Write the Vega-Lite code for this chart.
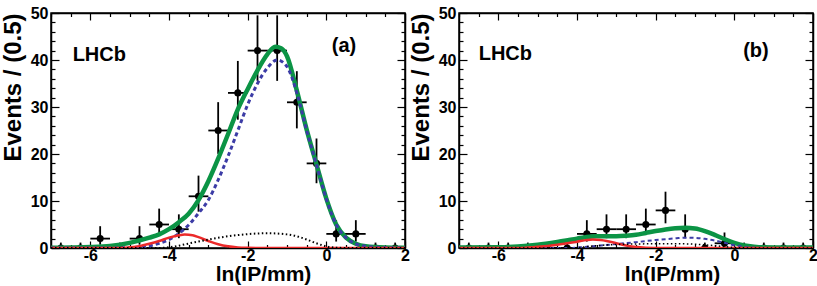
{
  "$schema": "https://vega.github.io/schema/vega-lite/v6.json",
  "padding": {"left": 0, "top": 4, "right": 0, "bottom": 0},
  "background": "white",
  "config": {
    "font": "Liberation Sans",
    "view": {"stroke": "black", "strokeWidth": 1.5},
    "axis": {
      "labelFont": "Liberation Sans", "labelFontWeight": "bold", "labelFontSize": 16, "labelColor": "black",
      "titleFont": "Liberation Sans", "titleFontWeight": "bold", "titleFontSize": 21, "titleColor": "black",
      "domainColor": "black", "domainWidth": 1.5, "tickColor": "black", "tickWidth": 1.2,
      "grid": false, "labelOverlap": false, "labelFlush": false, "labelBound": false
    }
  },
  "datasets": {
    "pts": [
      {"p":"a","x":-6.75,"xl":-7.0,"xr":-6.5,"n":0,"lo":0,"hi":1.15},
      {"p":"a","x":-6.25,"xl":-6.5,"xr":-6.0,"n":0,"lo":0,"hi":1.15},
      {"p":"a","x":-5.75,"xl":-6.0,"xr":-5.5,"n":2,"lo":0.71,"hi":4.64},
      {"p":"a","x":-5.25,"xl":-5.5,"xr":-5.0,"n":0,"lo":0,"hi":1.15},
      {"p":"a","x":-4.75,"xl":-5.0,"xr":-4.5,"n":2,"lo":0.71,"hi":4.64},
      {"p":"a","x":-4.25,"xl":-4.5,"xr":-4.0,"n":5,"lo":2.84,"hi":8.38},
      {"p":"a","x":-3.75,"xl":-4.0,"xr":-3.5,"n":4,"lo":2.09,"hi":7.16},
      {"p":"a","x":-3.25,"xl":-3.5,"xr":-3.0,"n":11,"lo":7.73,"hi":15.4},
      {"p":"a","x":-2.75,"xl":-3.0,"xr":-2.5,"n":25,"lo":20.03,"hi":31.03},
      {"p":"a","x":-2.25,"xl":-2.5,"xr":-2.0,"n":33,"lo":27.3,"hi":39.8},
      {"p":"a","x":-1.75,"xl":-2.0,"xr":-1.5,"n":42,"lo":35.56,"hi":49.5},
      {"p":"a","x":-1.25,"xl":-1.5,"xr":-1.0,"n":42,"lo":35.56,"hi":49.5},
      {"p":"a","x":-0.75,"xl":-1.0,"xr":-0.5,"n":31,"lo":25.45,"hi":37.62},
      {"p":"a","x":-0.25,"xl":-0.5,"xr":0.0,"n":18,"lo":13.78,"hi":23.3},
      {"p":"a","x":0.25,"xl":0.0,"xr":0.5,"n":3,"lo":1.37,"hi":5.92},
      {"p":"a","x":0.75,"xl":0.5,"xr":1.0,"n":3,"lo":1.37,"hi":5.92},
      {"p":"a","x":1.25,"xl":1.0,"xr":1.5,"n":0,"lo":0,"hi":1.15},
      {"p":"a","x":1.75,"xl":1.5,"xr":2.0,"n":0,"lo":0,"hi":1.15},
      {"p":"b","x":-6.75,"xl":-7.0,"xr":-6.5,"n":0,"lo":0,"hi":1.15},
      {"p":"b","x":-6.25,"xl":-6.5,"xr":-6.0,"n":0,"lo":0,"hi":1.15},
      {"p":"b","x":-5.75,"xl":-6.0,"xr":-5.5,"n":0,"lo":0,"hi":1.15},
      {"p":"b","x":-5.25,"xl":-5.5,"xr":-5.0,"n":0,"lo":0,"hi":1.15},
      {"p":"b","x":-4.75,"xl":-5.0,"xr":-4.5,"n":0,"lo":0,"hi":1.15},
      {"p":"b","x":-4.25,"xl":-4.5,"xr":-4.0,"n":0,"lo":0,"hi":1.15},
      {"p":"b","x":-3.75,"xl":-4.0,"xr":-3.5,"n":3,"lo":1.37,"hi":5.92},
      {"p":"b","x":-3.25,"xl":-3.5,"xr":-3.0,"n":4,"lo":2.09,"hi":7.16},
      {"p":"b","x":-2.75,"xl":-3.0,"xr":-2.5,"n":4,"lo":2.09,"hi":7.16},
      {"p":"b","x":-2.25,"xl":-2.5,"xr":-2.0,"n":5,"lo":2.84,"hi":8.38},
      {"p":"b","x":-1.75,"xl":-2.0,"xr":-1.5,"n":8,"lo":5.25,"hi":11.98},
      {"p":"b","x":-1.25,"xl":-1.5,"xr":-1.0,"n":4,"lo":2.09,"hi":7.16},
      {"p":"b","x":-0.75,"xl":-1.0,"xr":-0.5,"n":0,"lo":0,"hi":1.15},
      {"p":"b","x":-0.25,"xl":-0.5,"xr":0.0,"n":1,"lo":0.17,"hi":3.3},
      {"p":"b","x":0.25,"xl":0.0,"xr":0.5,"n":0,"lo":0,"hi":1.15},
      {"p":"b","x":0.75,"xl":0.5,"xr":1.0,"n":0,"lo":0,"hi":1.15},
      {"p":"b","x":1.25,"xl":1.0,"xr":1.5,"n":0,"lo":0,"hi":1.15},
      {"p":"b","x":1.75,"xl":1.5,"xr":2.0,"n":0,"lo":0,"hi":1.15}
    ],
    "labels": [
      {"p":"a","k":"exp","t":"LHCb","x":-6.45,"y":41},
      {"p":"a","k":"tag","t":"(a)","x":0.45,"y":43},
      {"p":"b","k":"exp","t":"LHCb","x":-6.5,"y":41.3},
      {"p":"b","k":"tag","t":"(b)","x":0.55,"y":42}
    ],
    "curves": [
      {"p":"a","c":"tot","x":-7,"y":0.05},{"p":"a","c":"tot","x":-6.5,"y":0.1},{"p":"a","c":"tot","x":-6,"y":0.2},
      {"p":"a","c":"tot","x":-5.5,"y":0.45},{"p":"a","c":"tot","x":-5,"y":1.1},{"p":"a","c":"tot","x":-4.5,"y":2.2},
      {"p":"a","c":"tot","x":-4.25,"y":2.9},{"p":"a","c":"tot","x":-4,"y":4.0},{"p":"a","c":"tot","x":-3.75,"y":5.5},
      {"p":"a","c":"tot","x":-3.5,"y":7.3},{"p":"a","c":"tot","x":-3.25,"y":10.2},{"p":"a","c":"tot","x":-3,"y":14.2},
      {"p":"a","c":"tot","x":-2.75,"y":19},{"p":"a","c":"tot","x":-2.5,"y":24.2},{"p":"a","c":"tot","x":-2.25,"y":29.5},
      {"p":"a","c":"tot","x":-2,"y":33.8},{"p":"a","c":"tot","x":-1.75,"y":37.8},{"p":"a","c":"tot","x":-1.5,"y":41.2},
      {"p":"a","c":"tot","x":-1.3,"y":42.8},{"p":"a","c":"tot","x":-1.15,"y":42.5},{"p":"a","c":"tot","x":-1,"y":40.8},
      {"p":"a","c":"tot","x":-0.75,"y":33.5},{"p":"a","c":"tot","x":-0.5,"y":25.2},{"p":"a","c":"tot","x":-0.25,"y":17.8},
      {"p":"a","c":"tot","x":0,"y":10.5},{"p":"a","c":"tot","x":0.25,"y":5},{"p":"a","c":"tot","x":0.5,"y":2.2},
      {"p":"a","c":"tot","x":0.75,"y":0.9},{"p":"a","c":"tot","x":1,"y":0.35},{"p":"a","c":"tot","x":1.5,"y":0.08},
      {"p":"a","c":"tot","x":2,"y":0.03},

      {"p":"a","c":"sig","x":-7,"y":0},{"p":"a","c":"sig","x":-5.5,"y":0},{"p":"a","c":"sig","x":-5,"y":0.05},
      {"p":"a","c":"sig","x":-4.75,"y":0.2},{"p":"a","c":"sig","x":-4.5,"y":0.45},{"p":"a","c":"sig","x":-4.25,"y":1.0},
      {"p":"a","c":"sig","x":-4,"y":1.8},{"p":"a","c":"sig","x":-3.75,"y":3.1},{"p":"a","c":"sig","x":-3.5,"y":4.9},
      {"p":"a","c":"sig","x":-3.25,"y":7.4},{"p":"a","c":"sig","x":-3,"y":10.2},{"p":"a","c":"sig","x":-2.75,"y":14.5},
      {"p":"a","c":"sig","x":-2.5,"y":19.5},{"p":"a","c":"sig","x":-2.25,"y":25},{"p":"a","c":"sig","x":-2,"y":30.5},
      {"p":"a","c":"sig","x":-1.75,"y":35},{"p":"a","c":"sig","x":-1.5,"y":38.3},{"p":"a","c":"sig","x":-1.25,"y":40},
      {"p":"a","c":"sig","x":-1,"y":38.6},{"p":"a","c":"sig","x":-0.75,"y":33},{"p":"a","c":"sig","x":-0.5,"y":25},
      {"p":"a","c":"sig","x":-0.25,"y":17.7},{"p":"a","c":"sig","x":0,"y":10.4},{"p":"a","c":"sig","x":0.25,"y":5},
      {"p":"a","c":"sig","x":0.5,"y":2.2},{"p":"a","c":"sig","x":0.75,"y":0.9},{"p":"a","c":"sig","x":1,"y":0.35},
      {"p":"a","c":"sig","x":1.5,"y":0.08},{"p":"a","c":"sig","x":2,"y":0.03},

      {"p":"a","c":"pk","x":-7,"y":0},{"p":"a","c":"pk","x":-5.25,"y":0},{"p":"a","c":"pk","x":-5,"y":0.15},
      {"p":"a","c":"pk","x":-4.75,"y":0.4},{"p":"a","c":"pk","x":-4.5,"y":0.9},{"p":"a","c":"pk","x":-4.25,"y":1.5},
      {"p":"a","c":"pk","x":-4,"y":2.2},{"p":"a","c":"pk","x":-3.75,"y":2.7},{"p":"a","c":"pk","x":-3.6,"y":2.85},
      {"p":"a","c":"pk","x":-3.4,"y":2.7},{"p":"a","c":"pk","x":-3.25,"y":2.3},{"p":"a","c":"pk","x":-3,"y":1.5},
      {"p":"a","c":"pk","x":-2.75,"y":0.8},{"p":"a","c":"pk","x":-2.5,"y":0.35},{"p":"a","c":"pk","x":-2.25,"y":0.12},
      {"p":"a","c":"pk","x":-2,"y":0.03},{"p":"a","c":"pk","x":-1.75,"y":0},{"p":"a","c":"pk","x":2,"y":0},

      {"p":"a","c":"bkg","x":-7,"y":0},{"p":"a","c":"bkg","x":-4.25,"y":0},{"p":"a","c":"bkg","x":-4,"y":0.15},
      {"p":"a","c":"bkg","x":-3.75,"y":0.5},{"p":"a","c":"bkg","x":-3.5,"y":0.95},{"p":"a","c":"bkg","x":-3,"y":1.8},
      {"p":"a","c":"bkg","x":-2.5,"y":2.5},{"p":"a","c":"bkg","x":-2,"y":2.95},{"p":"a","c":"bkg","x":-1.5,"y":3.15},
      {"p":"a","c":"bkg","x":-1,"y":2.9},{"p":"a","c":"bkg","x":-0.75,"y":2.5},{"p":"a","c":"bkg","x":-0.5,"y":1.8},
      {"p":"a","c":"bkg","x":-0.25,"y":1.0},{"p":"a","c":"bkg","x":0,"y":0.35},{"p":"a","c":"bkg","x":0.25,"y":0.08},
      {"p":"a","c":"bkg","x":0.5,"y":0},{"p":"a","c":"bkg","x":2,"y":0},

      {"p":"b","c":"tot","x":-7,"y":0.12},{"p":"b","c":"tot","x":-6,"y":0.15},{"p":"b","c":"tot","x":-5.5,"y":0.3},
      {"p":"b","c":"tot","x":-5,"y":0.7},{"p":"b","c":"tot","x":-4.5,"y":1.3},{"p":"b","c":"tot","x":-4,"y":2.0},
      {"p":"b","c":"tot","x":-3.75,"y":2.35},{"p":"b","c":"tot","x":-3.5,"y":2.5},{"p":"b","c":"tot","x":-3.25,"y":2.5},
      {"p":"b","c":"tot","x":-3,"y":2.5},{"p":"b","c":"tot","x":-2.75,"y":2.6},{"p":"b","c":"tot","x":-2.5,"y":2.8},
      {"p":"b","c":"tot","x":-2.25,"y":3.2},{"p":"b","c":"tot","x":-2,"y":3.6},{"p":"b","c":"tot","x":-1.75,"y":3.95},
      {"p":"b","c":"tot","x":-1.5,"y":4.2},{"p":"b","c":"tot","x":-1.25,"y":4.3},{"p":"b","c":"tot","x":-1,"y":4.15},
      {"p":"b","c":"tot","x":-0.75,"y":3.6},{"p":"b","c":"tot","x":-0.5,"y":2.8},{"p":"b","c":"tot","x":-0.25,"y":1.9},
      {"p":"b","c":"tot","x":0,"y":1.1},{"p":"b","c":"tot","x":0.25,"y":0.55},{"p":"b","c":"tot","x":0.5,"y":0.28},
      {"p":"b","c":"tot","x":0.75,"y":0.15},{"p":"b","c":"tot","x":1,"y":0.12},{"p":"b","c":"tot","x":2,"y":0.1},

      {"p":"b","c":"sig","x":-7,"y":0},{"p":"b","c":"sig","x":-4.25,"y":0},{"p":"b","c":"sig","x":-4,"y":0.1},
      {"p":"b","c":"sig","x":-3.5,"y":0.45},{"p":"b","c":"sig","x":-3,"y":0.85},{"p":"b","c":"sig","x":-2.5,"y":1.25},
      {"p":"b","c":"sig","x":-2,"y":1.7},{"p":"b","c":"sig","x":-1.5,"y":2.05},{"p":"b","c":"sig","x":-1.25,"y":2.2},
      {"p":"b","c":"sig","x":-1,"y":2.15},{"p":"b","c":"sig","x":-0.75,"y":1.95},{"p":"b","c":"sig","x":-0.5,"y":1.6},
      {"p":"b","c":"sig","x":-0.25,"y":1.1},{"p":"b","c":"sig","x":0,"y":0.6},{"p":"b","c":"sig","x":0.25,"y":0.25},
      {"p":"b","c":"sig","x":0.5,"y":0.08},{"p":"b","c":"sig","x":0.75,"y":0},{"p":"b","c":"sig","x":2,"y":0},

      {"p":"b","c":"pk","x":-7,"y":0},{"p":"b","c":"pk","x":-5.5,"y":0},{"p":"b","c":"pk","x":-5.25,"y":0.1},
      {"p":"b","c":"pk","x":-5,"y":0.25},{"p":"b","c":"pk","x":-4.5,"y":0.7},{"p":"b","c":"pk","x":-4,"y":1.35},
      {"p":"b","c":"pk","x":-3.75,"y":1.7},{"p":"b","c":"pk","x":-3.6,"y":1.8},{"p":"b","c":"pk","x":-3.4,"y":1.7},
      {"p":"b","c":"pk","x":-3.25,"y":1.5},{"p":"b","c":"pk","x":-3,"y":1.0},{"p":"b","c":"pk","x":-2.75,"y":0.55},
      {"p":"b","c":"pk","x":-2.5,"y":0.22},{"p":"b","c":"pk","x":-2.25,"y":0.07},{"p":"b","c":"pk","x":-2,"y":0.02},
      {"p":"b","c":"pk","x":-1.75,"y":0},{"p":"b","c":"pk","x":2,"y":0},

      {"p":"b","c":"bkg","x":-7,"y":0},{"p":"b","c":"bkg","x":-4.25,"y":0},{"p":"b","c":"bkg","x":-4,"y":0.1},
      {"p":"b","c":"bkg","x":-3.5,"y":0.5},{"p":"b","c":"bkg","x":-3,"y":0.75},{"p":"b","c":"bkg","x":-2.5,"y":0.85},
      {"p":"b","c":"bkg","x":-2,"y":0.9},{"p":"b","c":"bkg","x":-1.5,"y":0.9},{"p":"b","c":"bkg","x":-1,"y":0.8},
      {"p":"b","c":"bkg","x":-0.5,"y":0.5},{"p":"b","c":"bkg","x":0,"y":0.12},{"p":"b","c":"bkg","x":0.5,"y":0},
      {"p":"b","c":"bkg","x":2,"y":0}
    ]
  },
  "spacing": 54,
  "bounds": "flush",
  "hconcat": [
    {
      "width": 354, "height": 235,
      "resolve": {"axis": {"x": "independent", "y": "independent"}},
      "layer": [
        {
          "data": {"name": "pts"}, "transform": [{"filter": "datum.p === 'a'"}],
          "mark": {"type": "rule", "color": "black", "strokeWidth": 1.8, "clip": true},
          "encoding": {
            "x": {"field": "x", "type": "quantitative", "scale": {"domain": [-7, 2], "nice": false, "zero": false},
              "axis": {"orient": "bottom", "values": [-7,-6.5,-6,-5.5,-5,-4.5,-4,-3.5,-3,-2.5,-2,-1.5,-1,-0.5,0,0.5,1,1.5,2],
                "tickSize": {"condition": {"test": "datum.value % 2 === 0", "value": -7}, "value": -3.5},
                "labelExpr": "datum.value % 2 === 0 ? '' + datum.value : ''", "labelPadding": 6,
                "title": "ln(IP/mm)", "titleX": 212, "titleY": 32, "titleAlign": "center", "titleBaseline": "alphabetic"}},
            "y": {"field": "lo", "type": "quantitative", "scale": {"domain": [0, 50], "nice": false},
              "axis": {"orient": "left", "values": [0,2,4,6,8,10,12,14,16,18,20,22,24,26,28,30,32,34,36,38,40,42,44,46,48,50],
                "tickSize": {"condition": {"test": "datum.value % 10 === 0", "value": -8}, "value": -4},
                "labelExpr": "datum.value % 10 === 0 ? datum.label : ''", "labelPadding": 11,
                "title": "Events / (0.5)", "titleFontSize": 24, "titleX": -38, "titleY": 0, "titleAngle": -90, "titleAlign": "right", "titleBaseline": "middle"}},
            "y2": {"field": "hi"}
          }
        },
        {
          "data": {"name": "pts"}, "transform": [{"filter": "datum.p === 'a'"}],
          "mark": {"type": "rule", "color": "black", "strokeWidth": 1.8, "clip": true},
          "encoding": {
            "x": {"field": "xl", "type": "quantitative", "scale": {"domain": [-7, 2], "nice": false, "zero": false},
              "axis": {"orient": "top", "values": [-7,-6.5,-6,-5.5,-5,-4.5,-4,-3.5,-3,-2.5,-2,-1.5,-1,-0.5,0,0.5,1,1.5,2],
                "tickSize": {"condition": {"test": "datum.value % 2 === 0", "value": -7}, "value": -3.5},
                "labels": false, "title": null}},
            "x2": {"field": "xr"},
            "y": {"field": "n", "type": "quantitative", "scale": {"domain": [0, 50], "nice": false},
              "axis": {"orient": "right", "values": [0,2,4,6,8,10,12,14,16,18,20,22,24,26,28,30,32,34,36,38,40,42,44,46,48,50],
                "tickSize": {"condition": {"test": "datum.value % 10 === 0", "value": -8}, "value": -4},
                "labels": false, "title": null}}
          }
        },
        {
          "data": {"name": "pts"}, "transform": [{"filter": "datum.p === 'a'"}],
          "mark": {"type": "point", "filled": true, "color": "black", "opacity": 1, "size": 50, "clip": true},
          "encoding": {
            "x": {"field": "x", "type": "quantitative", "scale": {"domain": [-7, 2], "nice": false, "zero": false}, "axis": null},
            "y": {"field": "n", "type": "quantitative", "scale": {"domain": [0, 50], "nice": false}, "axis": null}
          }
        },
        {
          "data": {"name": "curves"}, "transform": [{"filter": "datum.p === 'a' && datum.c === 'tot'"}],
          "mark": {"type": "line", "color": "#0b9445", "strokeWidth": 4.5, "interpolate": "monotone", "clip": true},
          "encoding": {
            "x": {"field": "x", "type": "quantitative", "scale": {"domain": [-7, 2], "nice": false, "zero": false}, "axis": null},
            "y": {"field": "y", "type": "quantitative", "scale": {"domain": [0, 50], "nice": false}, "axis": null}
          }
        },
        {
          "data": {"name": "curves"}, "transform": [{"filter": "datum.p === 'a' && datum.c === 'sig'"}],
          "mark": {"type": "line", "color": "#3c3ca6", "strokeWidth": 3, "strokeDash": [4, 3], "interpolate": "monotone", "clip": true},
          "encoding": {
            "x": {"field": "x", "type": "quantitative", "scale": {"domain": [-7, 2], "nice": false, "zero": false}, "axis": null},
            "y": {"field": "y", "type": "quantitative", "scale": {"domain": [0, 50], "nice": false}, "axis": null}
          }
        },
        {
          "data": {"name": "curves"}, "transform": [{"filter": "datum.p === 'a' && datum.c === 'pk'"}],
          "mark": {"type": "line", "color": "#ec2a2a", "strokeWidth": 2.5, "interpolate": "monotone", "clip": true},
          "encoding": {
            "x": {"field": "x", "type": "quantitative", "scale": {"domain": [-7, 2], "nice": false, "zero": false}, "axis": null},
            "y": {"field": "y", "type": "quantitative", "scale": {"domain": [0, 50], "nice": false}, "axis": null}
          }
        },
        {
          "data": {"name": "curves"}, "transform": [{"filter": "datum.p === 'a' && datum.c === 'bkg'"}],
          "mark": {"type": "line", "color": "black", "strokeWidth": 2, "strokeDash": [1.5, 2.5], "interpolate": "monotone", "clip": true},
          "encoding": {
            "x": {"field": "x", "type": "quantitative", "scale": {"domain": [-7, 2], "nice": false, "zero": false}, "axis": null},
            "y": {"field": "y", "type": "quantitative", "scale": {"domain": [0, 50], "nice": false}, "axis": null}
          }
        },
        {
          "data": {"name": "labels"}, "transform": [{"filter": "datum.p === 'a' && datum.k === 'exp'"}],
          "mark": {"type": "text", "font": "Liberation Sans", "fontWeight": "bold", "fontSize": 20, "align": "left", "baseline": "middle", "color": "black"},
          "encoding": {
            "x": {"field": "x", "type": "quantitative", "scale": {"domain": [-7, 2], "nice": false, "zero": false}, "axis": null},
            "y": {"field": "y", "type": "quantitative", "scale": {"domain": [0, 50], "nice": false}, "axis": null},
            "text": {"field": "t"}
          }
        },
        {
          "data": {"name": "labels"}, "transform": [{"filter": "datum.p === 'a' && datum.k === 'tag'"}],
          "mark": {"type": "text", "font": "Liberation Sans", "fontWeight": "bold", "fontSize": 20, "align": "center", "baseline": "middle", "color": "black"},
          "encoding": {
            "x": {"field": "x", "type": "quantitative", "scale": {"domain": [-7, 2], "nice": false, "zero": false}, "axis": null},
            "y": {"field": "y", "type": "quantitative", "scale": {"domain": [0, 50], "nice": false}, "axis": null},
            "text": {"field": "t"}
          }
        }
      ]
    },
    {
      "width": 354, "height": 235,
      "resolve": {"axis": {"x": "independent", "y": "independent"}},
      "layer": [
        {
          "data": {"name": "pts"}, "transform": [{"filter": "datum.p === 'b'"}],
          "mark": {"type": "rule", "color": "black", "strokeWidth": 1.8, "clip": true},
          "encoding": {
            "x": {"field": "x", "type": "quantitative", "scale": {"domain": [-7, 2], "nice": false, "zero": false},
              "axis": {"orient": "bottom", "values": [-7,-6.5,-6,-5.5,-5,-4.5,-4,-3.5,-3,-2.5,-2,-1.5,-1,-0.5,0,0.5,1,1.5,2],
                "tickSize": {"condition": {"test": "datum.value % 2 === 0", "value": -7}, "value": -3.5},
                "labelExpr": "datum.value % 2 === 0 ? '' + datum.value : ''", "labelPadding": 6,
                "title": "ln(IP/mm)", "titleX": 213, "titleY": 32, "titleAlign": "center", "titleBaseline": "alphabetic"}},
            "y": {"field": "lo", "type": "quantitative", "scale": {"domain": [0, 50], "nice": false},
              "axis": {"orient": "left", "values": [0,2,4,6,8,10,12,14,16,18,20,22,24,26,28,30,32,34,36,38,40,42,44,46,48,50],
                "tickSize": {"condition": {"test": "datum.value % 10 === 0", "value": -8}, "value": -4},
                "labelExpr": "datum.value % 10 === 0 ? datum.label : ''", "labelPadding": 11,
                "title": "Events / (0.5)", "titleFontSize": 24, "titleX": -38, "titleY": 0, "titleAngle": -90, "titleAlign": "right", "titleBaseline": "middle"}},
            "y2": {"field": "hi"}
          }
        },
        {
          "data": {"name": "pts"}, "transform": [{"filter": "datum.p === 'b'"}],
          "mark": {"type": "rule", "color": "black", "strokeWidth": 1.8, "clip": true},
          "encoding": {
            "x": {"field": "xl", "type": "quantitative", "scale": {"domain": [-7, 2], "nice": false, "zero": false},
              "axis": {"orient": "top", "values": [-7,-6.5,-6,-5.5,-5,-4.5,-4,-3.5,-3,-2.5,-2,-1.5,-1,-0.5,0,0.5,1,1.5,2],
                "tickSize": {"condition": {"test": "datum.value % 2 === 0", "value": -7}, "value": -3.5},
                "labels": false, "title": null}},
            "x2": {"field": "xr"},
            "y": {"field": "n", "type": "quantitative", "scale": {"domain": [0, 50], "nice": false},
              "axis": {"orient": "right", "values": [0,2,4,6,8,10,12,14,16,18,20,22,24,26,28,30,32,34,36,38,40,42,44,46,48,50],
                "tickSize": {"condition": {"test": "datum.value % 10 === 0", "value": -8}, "value": -4},
                "labels": false, "title": null}}
          }
        },
        {
          "data": {"name": "pts"}, "transform": [{"filter": "datum.p === 'b'"}],
          "mark": {"type": "point", "filled": true, "color": "black", "opacity": 1, "size": 50, "clip": true},
          "encoding": {
            "x": {"field": "x", "type": "quantitative", "scale": {"domain": [-7, 2], "nice": false, "zero": false}, "axis": null},
            "y": {"field": "n", "type": "quantitative", "scale": {"domain": [0, 50], "nice": false}, "axis": null}
          }
        },
        {
          "data": {"name": "curves"}, "transform": [{"filter": "datum.p === 'b' && datum.c === 'tot'"}],
          "mark": {"type": "line", "color": "#0b9445", "strokeWidth": 4.5, "interpolate": "monotone", "clip": true},
          "encoding": {
            "x": {"field": "x", "type": "quantitative", "scale": {"domain": [-7, 2], "nice": false, "zero": false}, "axis": null},
            "y": {"field": "y", "type": "quantitative", "scale": {"domain": [0, 50], "nice": false}, "axis": null}
          }
        },
        {
          "data": {"name": "curves"}, "transform": [{"filter": "datum.p === 'b' && datum.c === 'sig'"}],
          "mark": {"type": "line", "color": "#3c3ca6", "strokeWidth": 2, "strokeDash": [4, 3], "interpolate": "monotone", "clip": true},
          "encoding": {
            "x": {"field": "x", "type": "quantitative", "scale": {"domain": [-7, 2], "nice": false, "zero": false}, "axis": null},
            "y": {"field": "y", "type": "quantitative", "scale": {"domain": [0, 50], "nice": false}, "axis": null}
          }
        },
        {
          "data": {"name": "curves"}, "transform": [{"filter": "datum.p === 'b' && datum.c === 'pk'"}],
          "mark": {"type": "line", "color": "#ec2a2a", "strokeWidth": 2.5, "interpolate": "monotone", "clip": true},
          "encoding": {
            "x": {"field": "x", "type": "quantitative", "scale": {"domain": [-7, 2], "nice": false, "zero": false}, "axis": null},
            "y": {"field": "y", "type": "quantitative", "scale": {"domain": [0, 50], "nice": false}, "axis": null}
          }
        },
        {
          "data": {"name": "curves"}, "transform": [{"filter": "datum.p === 'b' && datum.c === 'bkg'"}],
          "mark": {"type": "line", "color": "black", "strokeWidth": 1.5, "strokeDash": [1.5, 2.5], "interpolate": "monotone", "clip": true},
          "encoding": {
            "x": {"field": "x", "type": "quantitative", "scale": {"domain": [-7, 2], "nice": false, "zero": false}, "axis": null},
            "y": {"field": "y", "type": "quantitative", "scale": {"domain": [0, 50], "nice": false}, "axis": null}
          }
        },
        {
          "data": {"name": "labels"}, "transform": [{"filter": "datum.p === 'b' && datum.k === 'exp'"}],
          "mark": {"type": "text", "font": "Liberation Sans", "fontWeight": "bold", "fontSize": 20, "align": "left", "baseline": "middle", "color": "black"},
          "encoding": {
            "x": {"field": "x", "type": "quantitative", "scale": {"domain": [-7, 2], "nice": false, "zero": false}, "axis": null},
            "y": {"field": "y", "type": "quantitative", "scale": {"domain": [0, 50], "nice": false}, "axis": null},
            "text": {"field": "t"}
          }
        },
        {
          "data": {"name": "labels"}, "transform": [{"filter": "datum.p === 'b' && datum.k === 'tag'"}],
          "mark": {"type": "text", "font": "Liberation Sans", "fontWeight": "bold", "fontSize": 20, "align": "center", "baseline": "middle", "color": "black"},
          "encoding": {
            "x": {"field": "x", "type": "quantitative", "scale": {"domain": [-7, 2], "nice": false, "zero": false}, "axis": null},
            "y": {"field": "y", "type": "quantitative", "scale": {"domain": [0, 50], "nice": false}, "axis": null},
            "text": {"field": "t"}
          }
        }
      ]
    }
  ]
}
